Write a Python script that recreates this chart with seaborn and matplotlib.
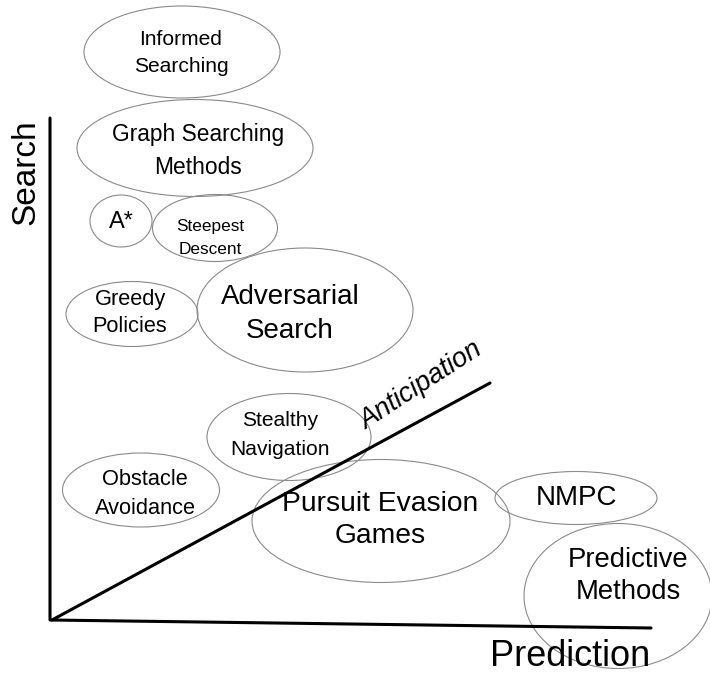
import matplotlib
matplotlib.use("Agg")
import matplotlib.pyplot as plt
from matplotlib.patches import Ellipse
from matplotlib import font_manager
import seaborn as sns
import pandas as pd

# ---- data (pixel-space concept map) ----
labels = ["Informed\nSearching", "Graph Searching\nMethods", "A*", "Steepest\nDescent",
          "Greedy\nPolicies", "Adversarial\nSearch", "Stealthy\nNavigation",
          "Obstacle\nAvoidance", "Pursuit Evasion\nGames", "NMPC", "Predictive\nMethods"]
center_x = [182, 195, 121, 215, 132, 305, 289, 141, 381, 576, 618]
center_y = [52, 148, 221, 228, 314, 310, 437, 490, 521, 498, 596]
ell_w = [196, 236, 62, 125, 132, 216, 164, 157, 258, 162, 188]
ell_h = [92, 97, 52, 67, 65, 124, 87, 74, 123, 53, 145]
text_x = [181, 198, 121, 210, 130, 290, 280, 145, 380, 577, 628]
text_y = [53, 151, 222, 238, 313, 314, 435, 494, 520, 498, 576]
font_sz = [15.1, 16.4, 17, 12.4, 15.7, 20, 15.1, 15.7, 20.3, 20, 19.8]
line_sp = [1.55, 1.52, 1.2, 1.68, 1.4, 1.38, 1.68, 1.44, 1.3, 1.2, 1.3]

axis_x = [50, 50, 651]
axis_y = [118, 620, 628]
diag_x = [52, 490]
diag_y = [620, 383]

sns.set_theme(style="white")
names = [f.name for f in font_manager.fontManager.ttflist]
plt.rcParams["font.family"] = ["Liberation Sans", "DejaVu Sans"]

fig = plt.figure(figsize=(7.1, 6.73), dpi=100)
ax = fig.add_axes([0, 0, 1, 1])

axes_df = pd.DataFrame({"x": axis_x, "y": axis_y})
sns.lineplot(data=axes_df, x="x", y="y", sort=False, estimator=None, errorbar=None,
             color="black", lw=2.2, ax=ax)
diag_df = pd.DataFrame({"x": diag_x, "y": diag_y})
sns.lineplot(data=diag_df, x="x", y="y", sort=False, estimator=None, errorbar=None,
             color="black", lw=2.2, ax=ax)
ax.set_xlim(0, 710)
ax.set_ylim(673, 0)
ax.set_axis_off()

for lab, cx, cy, w, h, tx, ty, fs, ls in zip(labels, center_x, center_y, ell_w, ell_h,
                                             text_x, text_y, font_sz, line_sp):
    ax.add_patch(Ellipse((cx, cy), w, h, fill=False, edgecolor="#8a8a8a", lw=0.8))
    ax.text(tx, ty, lab, ha="center", va="center", fontsize=fs, color="black",
            linespacing=ls)

ax.text(26, 172, "Search", rotation=90, ha="center", va="center", fontsize=24, color="black")
ax.text(570, 656, "Prediction", ha="center", va="center", fontsize=26, color="black")
narrow = "Liberation Sans Narrow" if "Liberation Sans Narrow" in names else "Liberation Sans"
ax.text(421, 386, "Anticipation", rotation=33, ha="center", va="center", fontsize=19.5,
        style="italic", family=[narrow, "DejaVu Sans"], color="black",
        rotation_mode="anchor")

fig.savefig("out.png", dpi=100)
